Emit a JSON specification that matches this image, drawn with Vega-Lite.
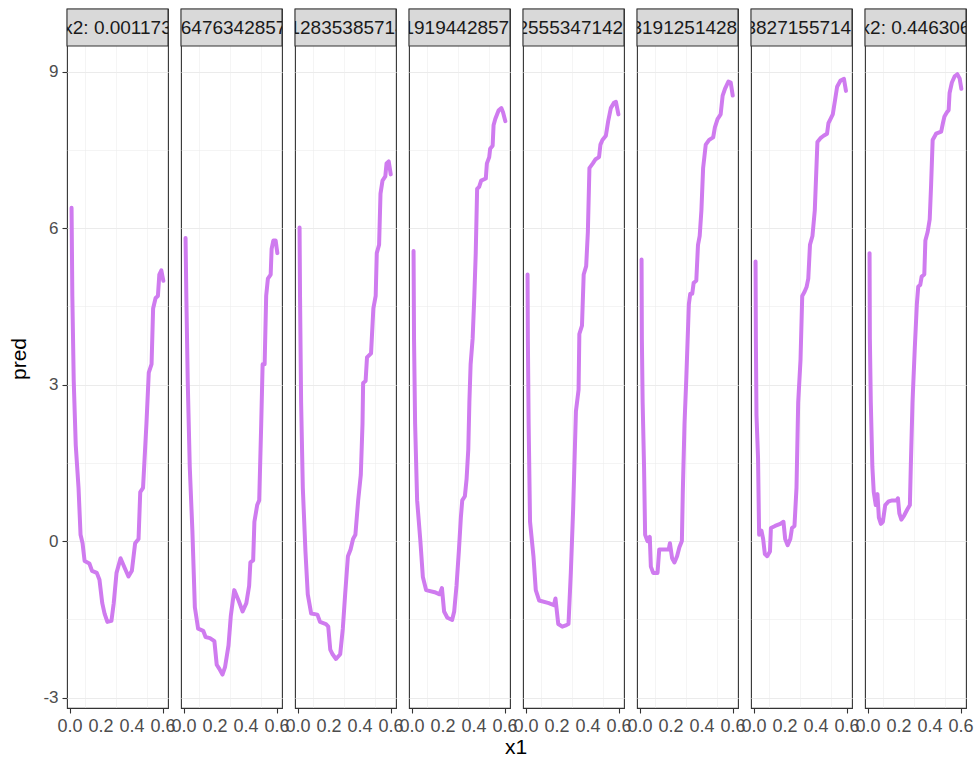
{
  "$schema": "https://vega.github.io/schema/vega-lite/v6.json",
  "background": "white",
  "padding": {"left": 8, "top": 7, "right": 0, "bottom": 5},
  "bounds": "flush",
  "datasets": {
    "p": [
      {"x2":"x2: 0.001173","x1":0.01,"pred":6.39},{"x2":"x2: 0.001173","x1":0.015,"pred":4.70},{"x2":"x2: 0.001173","x1":0.024,"pred":3.07},{"x2":"x2: 0.001173","x1":0.037,"pred":1.84},{"x2":"x2: 0.001173","x1":0.055,"pred":1.02},{"x2":"x2: 0.001173","x1":0.068,"pred":0.12},{"x2":"x2: 0.001173","x1":0.081,"pred":-0.04},{"x2":"x2: 0.001173","x1":0.094,"pred":-0.38},{"x2":"x2: 0.001173","x1":0.125,"pred":-0.43},{"x2":"x2: 0.001173","x1":0.142,"pred":-0.57},{"x2":"x2: 0.001173","x1":0.173,"pred":-0.61},{"x2":"x2: 0.001173","x1":0.19,"pred":-0.74},{"x2":"x2: 0.001173","x1":0.208,"pred":-1.19},{"x2":"x2: 0.001173","x1":0.223,"pred":-1.39},{"x2":"x2: 0.001173","x1":0.241,"pred":-1.55},{"x2":"x2: 0.001173","x1":0.267,"pred":-1.53},{"x2":"x2: 0.001173","x1":0.282,"pred":-1.19},{"x2":"x2: 0.001173","x1":0.3,"pred":-0.61},{"x2":"x2: 0.001173","x1":0.326,"pred":-0.33},{"x2":"x2: 0.001173","x1":0.355,"pred":-0.53},{"x2":"x2: 0.001173","x1":0.377,"pred":-0.68},{"x2":"x2: 0.001173","x1":0.399,"pred":-0.57},{"x2":"x2: 0.001173","x1":0.42,"pred":-0.04},{"x2":"x2: 0.001173","x1":0.442,"pred":0.04},{"x2":"x2: 0.001173","x1":0.453,"pred":0.94},{"x2":"x2: 0.001173","x1":0.471,"pred":1.02},{"x2":"x2: 0.001173","x1":0.493,"pred":2.25},{"x2":"x2: 0.001173","x1":0.508,"pred":3.23},{"x2":"x2: 0.001173","x1":0.526,"pred":3.39},{"x2":"x2: 0.001173","x1":0.536,"pred":4.46},{"x2":"x2: 0.001173","x1":0.552,"pred":4.66},{"x2":"x2: 0.001173","x1":0.567,"pred":4.70},{"x2":"x2: 0.001173","x1":0.576,"pred":5.11},{"x2":"x2: 0.001173","x1":0.589,"pred":5.19},{"x2":"x2: 0.001173","x1":0.602,"pred":4.99},

      {"x2":"x2: 0.0647634285714286","x1":0.01,"pred":5.81},{"x2":"x2: 0.0647634285714286","x1":0.015,"pred":4.70},{"x2":"x2: 0.0647634285714286","x1":0.024,"pred":3.07},{"x2":"x2: 0.0647634285714286","x1":0.037,"pred":1.43},{"x2":"x2: 0.0647634285714286","x1":0.054,"pred":0.2},{"x2":"x2: 0.0647634285714286","x1":0.07,"pred":-1.27},{"x2":"x2: 0.0647634285714286","x1":0.091,"pred":-1.68},{"x2":"x2: 0.0647634285714286","x1":0.124,"pred":-1.72},{"x2":"x2: 0.0647634285714286","x1":0.139,"pred":-1.84},{"x2":"x2: 0.0647634285714286","x1":0.167,"pred":-1.86},{"x2":"x2: 0.0647634285714286","x1":0.196,"pred":-1.92},{"x2":"x2: 0.0647634285714286","x1":0.211,"pred":-2.37},{"x2":"x2: 0.0647634285714286","x1":0.228,"pred":-2.45},{"x2":"x2: 0.0647634285714286","x1":0.248,"pred":-2.56},{"x2":"x2: 0.0647634285714286","x1":0.265,"pred":-2.41},{"x2":"x2: 0.0647634285714286","x1":0.287,"pred":-2.0},{"x2":"x2: 0.0647634285714286","x1":0.302,"pred":-1.43},{"x2":"x2: 0.0647634285714286","x1":0.324,"pred":-0.94},{"x2":"x2: 0.0647634285714286","x1":0.352,"pred":-1.14},{"x2":"x2: 0.0647634285714286","x1":0.378,"pred":-1.35},{"x2":"x2: 0.0647634285714286","x1":0.402,"pred":-1.19},{"x2":"x2: 0.0647634285714286","x1":0.42,"pred":-0.86},{"x2":"x2: 0.0647634285714286","x1":0.428,"pred":-0.41},{"x2":"x2: 0.0647634285714286","x1":0.446,"pred":-0.37},{"x2":"x2: 0.0647634285714286","x1":0.454,"pred":0.37},{"x2":"x2: 0.0647634285714286","x1":0.472,"pred":0.69},{"x2":"x2: 0.0647634285714286","x1":0.485,"pred":0.78},{"x2":"x2: 0.0647634285714286","x1":0.498,"pred":2.25},{"x2":"x2: 0.0647634285714286","x1":0.507,"pred":3.39},{"x2":"x2: 0.0647634285714286","x1":0.52,"pred":3.39},{"x2":"x2: 0.0647634285714286","x1":0.53,"pred":4.70},{"x2":"x2: 0.0647634285714286","x1":0.541,"pred":5.03},{"x2":"x2: 0.0647634285714286","x1":0.559,"pred":5.11},{"x2":"x2: 0.0647634285714286","x1":0.565,"pred":5.6},{"x2":"x2: 0.0647634285714286","x1":0.576,"pred":5.76},{"x2":"x2: 0.0647634285714286","x1":0.591,"pred":5.76},{"x2":"x2: 0.0647634285714286","x1":0.602,"pred":5.52},

      {"x2":"x2: 0.128353857142857","x1":0.01,"pred":6.01},{"x2":"x2: 0.128353857142857","x1":0.013,"pred":4.70},{"x2":"x2: 0.128353857142857","x1":0.02,"pred":2.66},{"x2":"x2: 0.128353857142857","x1":0.031,"pred":1.02},{"x2":"x2: 0.128353857142857","x1":0.048,"pred":-0.2},{"x2":"x2: 0.128353857142857","x1":0.063,"pred":-1.02},{"x2":"x2: 0.128353857142857","x1":0.085,"pred":-1.39},{"x2":"x2: 0.128353857142857","x1":0.125,"pred":-1.41},{"x2":"x2: 0.128353857142857","x1":0.142,"pred":-1.55},{"x2":"x2: 0.128353857142857","x1":0.18,"pred":-1.59},{"x2":"x2: 0.128353857142857","x1":0.195,"pred":-1.64},{"x2":"x2: 0.128353857142857","x1":0.208,"pred":-2.08},{"x2":"x2: 0.128353857142857","x1":0.223,"pred":-2.17},{"x2":"x2: 0.128353857142857","x1":0.245,"pred":-2.26},{"x2":"x2: 0.128353857142857","x1":0.272,"pred":-2.17},{"x2":"x2: 0.128353857142857","x1":0.289,"pred":-1.68},{"x2":"x2: 0.128353857142857","x1":0.304,"pred":-1.02},{"x2":"x2: 0.128353857142857","x1":0.322,"pred":-0.29},{"x2":"x2: 0.128353857142857","x1":0.339,"pred":-0.16},{"x2":"x2: 0.128353857142857","x1":0.355,"pred":0.04},{"x2":"x2: 0.128353857142857","x1":0.37,"pred":0.12},{"x2":"x2: 0.128353857142857","x1":0.388,"pred":0.78},{"x2":"x2: 0.128353857142857","x1":0.405,"pred":1.27},{"x2":"x2: 0.128353857142857","x1":0.416,"pred":2.25},{"x2":"x2: 0.128353857142857","x1":0.42,"pred":3.03},{"x2":"x2: 0.128353857142857","x1":0.436,"pred":3.07},{"x2":"x2: 0.128353857142857","x1":0.445,"pred":3.52},{"x2":"x2: 0.128353857142857","x1":0.471,"pred":3.6},{"x2":"x2: 0.128353857142857","x1":0.486,"pred":4.46},{"x2":"x2: 0.128353857142857","x1":0.501,"pred":4.70},{"x2":"x2: 0.128353857142857","x1":0.508,"pred":5.52},{"x2":"x2: 0.128353857142857","x1":0.523,"pred":5.68},{"x2":"x2: 0.128353857142857","x1":0.532,"pred":6.66},{"x2":"x2: 0.128353857142857","x1":0.545,"pred":6.91},{"x2":"x2: 0.128353857142857","x1":0.563,"pred":6.99},{"x2":"x2: 0.128353857142857","x1":0.571,"pred":7.24},{"x2":"x2: 0.128353857142857","x1":0.585,"pred":7.28},{"x2":"x2: 0.128353857142857","x1":0.598,"pred":7.03},

      {"x2":"x2: 0.191944285714286","x1":0.01,"pred":5.56},{"x2":"x2: 0.191944285714286","x1":0.013,"pred":3.88},{"x2":"x2: 0.191944285714286","x1":0.02,"pred":2.25},{"x2":"x2: 0.191944285714286","x1":0.033,"pred":0.78},{"x2":"x2: 0.191944285714286","x1":0.054,"pred":0.0},{"x2":"x2: 0.191944285714286","x1":0.07,"pred":-0.69},{"x2":"x2: 0.191944285714286","x1":0.091,"pred":-0.94},{"x2":"x2: 0.191944285714286","x1":0.146,"pred":-0.98},{"x2":"x2: 0.191944285714286","x1":0.178,"pred":-1.02},{"x2":"x2: 0.191944285714286","x1":0.193,"pred":-0.9},{"x2":"x2: 0.191944285714286","x1":0.207,"pred":-1.35},{"x2":"x2: 0.191944285714286","x1":0.228,"pred":-1.47},{"x2":"x2: 0.191944285714286","x1":0.259,"pred":-1.51},{"x2":"x2: 0.191944285714286","x1":0.272,"pred":-1.35},{"x2":"x2: 0.191944285714286","x1":0.287,"pred":-0.86},{"x2":"x2: 0.191944285714286","x1":0.302,"pred":-0.2},{"x2":"x2: 0.191944285714286","x1":0.315,"pred":0.45},{"x2":"x2: 0.191944285714286","x1":0.324,"pred":0.78},{"x2":"x2: 0.191944285714286","x1":0.341,"pred":0.86},{"x2":"x2: 0.191944285714286","x1":0.352,"pred":1.19},{"x2":"x2: 0.191944285714286","x1":0.363,"pred":1.76},{"x2":"x2: 0.191944285714286","x1":0.37,"pred":2.66},{"x2":"x2: 0.191944285714286","x1":0.378,"pred":3.39},{"x2":"x2: 0.191944285714286","x1":0.391,"pred":3.88},{"x2":"x2: 0.191944285714286","x1":0.402,"pred":4.70},{"x2":"x2: 0.191944285714286","x1":0.411,"pred":5.52},{"x2":"x2: 0.191944285714286","x1":0.42,"pred":6.75},{"x2":"x2: 0.191944285714286","x1":0.433,"pred":6.79},{"x2":"x2: 0.191944285714286","x1":0.446,"pred":6.91},{"x2":"x2: 0.191944285714286","x1":0.476,"pred":6.95},{"x2":"x2: 0.191944285714286","x1":0.483,"pred":7.24},{"x2":"x2: 0.191944285714286","x1":0.498,"pred":7.36},{"x2":"x2: 0.191944285714286","x1":0.504,"pred":7.52},{"x2":"x2: 0.191944285714286","x1":0.52,"pred":7.58},{"x2":"x2: 0.191944285714286","x1":0.526,"pred":7.97},{"x2":"x2: 0.191944285714286","x1":0.537,"pred":8.09},{"x2":"x2: 0.191944285714286","x1":0.559,"pred":8.26},{"x2":"x2: 0.191944285714286","x1":0.576,"pred":8.3},{"x2":"x2: 0.191944285714286","x1":0.587,"pred":8.22},{"x2":"x2: 0.191944285714286","x1":0.602,"pred":8.05},

      {"x2":"x2: 0.255534714285714","x1":0.01,"pred":5.11},{"x2":"x2: 0.255534714285714","x1":0.012,"pred":3.88},{"x2":"x2: 0.255534714285714","x1":0.017,"pred":2.25},{"x2":"x2: 0.255534714285714","x1":0.026,"pred":0.37},{"x2":"x2: 0.255534714285714","x1":0.048,"pred":-0.29},{"x2":"x2: 0.255534714285714","x1":0.063,"pred":-0.94},{"x2":"x2: 0.255534714285714","x1":0.085,"pred":-1.14},{"x2":"x2: 0.255534714285714","x1":0.147,"pred":-1.19},{"x2":"x2: 0.255534714285714","x1":0.18,"pred":-1.23},{"x2":"x2: 0.255534714285714","x1":0.19,"pred":-1.1},{"x2":"x2: 0.255534714285714","x1":0.208,"pred":-1.59},{"x2":"x2: 0.255534714285714","x1":0.234,"pred":-1.64},{"x2":"x2: 0.255534714285714","x1":0.261,"pred":-1.61},{"x2":"x2: 0.255534714285714","x1":0.274,"pred":-1.59},{"x2":"x2: 0.255534714285714","x1":0.289,"pred":-0.61},{"x2":"x2: 0.255534714285714","x1":0.304,"pred":0.61},{"x2":"x2: 0.255534714285714","x1":0.322,"pred":2.49},{"x2":"x2: 0.255534714285714","x1":0.339,"pred":2.9},{"x2":"x2: 0.255534714285714","x1":0.344,"pred":3.97},{"x2":"x2: 0.255534714285714","x1":0.361,"pred":4.13},{"x2":"x2: 0.255534714285714","x1":0.372,"pred":5.11},{"x2":"x2: 0.255534714285714","x1":0.388,"pred":5.27},{"x2":"x2: 0.255534714285714","x1":0.399,"pred":5.93},{"x2":"x2: 0.255534714285714","x1":0.409,"pred":7.15},{"x2":"x2: 0.255534714285714","x1":0.431,"pred":7.24},{"x2":"x2: 0.255534714285714","x1":0.449,"pred":7.32},{"x2":"x2: 0.255534714285714","x1":0.471,"pred":7.36},{"x2":"x2: 0.255534714285714","x1":0.48,"pred":7.6},{"x2":"x2: 0.255534714285714","x1":0.493,"pred":7.69},{"x2":"x2: 0.255534714285714","x1":0.515,"pred":7.77},{"x2":"x2: 0.255534714285714","x1":0.53,"pred":8.05},{"x2":"x2: 0.255534714285714","x1":0.547,"pred":8.3},{"x2":"x2: 0.255534714285714","x1":0.567,"pred":8.4},{"x2":"x2: 0.255534714285714","x1":0.58,"pred":8.42},{"x2":"x2: 0.255534714285714","x1":0.596,"pred":8.18},

      {"x2":"x2: 0.319125142857143","x1":0.01,"pred":5.4},{"x2":"x2: 0.319125142857143","x1":0.012,"pred":3.88},{"x2":"x2: 0.319125142857143","x1":0.017,"pred":2.66},{"x2":"x2: 0.319125142857143","x1":0.026,"pred":1.43},{"x2":"x2: 0.319125142857143","x1":0.033,"pred":0.12},{"x2":"x2: 0.319125142857143","x1":0.048,"pred":0.0},{"x2":"x2: 0.319125142857143","x1":0.063,"pred":0.08},{"x2":"x2: 0.319125142857143","x1":0.07,"pred":-0.49},{"x2":"x2: 0.319125142857143","x1":0.085,"pred":-0.61},{"x2":"x2: 0.319125142857143","x1":0.113,"pred":-0.61},{"x2":"x2: 0.319125142857143","x1":0.124,"pred":-0.16},{"x2":"x2: 0.319125142857143","x1":0.157,"pred":-0.16},{"x2":"x2: 0.319125142857143","x1":0.185,"pred":-0.16},{"x2":"x2: 0.319125142857143","x1":0.193,"pred":-0.04},{"x2":"x2: 0.319125142857143","x1":0.207,"pred":-0.33},{"x2":"x2: 0.319125142857143","x1":0.222,"pred":-0.41},{"x2":"x2: 0.319125142857143","x1":0.239,"pred":-0.29},{"x2":"x2: 0.319125142857143","x1":0.254,"pred":-0.12},{"x2":"x2: 0.319125142857143","x1":0.27,"pred":0.0},{"x2":"x2: 0.319125142857143","x1":0.276,"pred":0.94},{"x2":"x2: 0.319125142857143","x1":0.287,"pred":2.25},{"x2":"x2: 0.319125142857143","x1":0.298,"pred":3.07},{"x2":"x2: 0.319125142857143","x1":0.315,"pred":4.54},{"x2":"x2: 0.319125142857143","x1":0.324,"pred":4.74},{"x2":"x2: 0.319125142857143","x1":0.337,"pred":4.74},{"x2":"x2: 0.319125142857143","x1":0.346,"pred":4.95},{"x2":"x2: 0.319125142857143","x1":0.363,"pred":4.99},{"x2":"x2: 0.319125142857143","x1":0.374,"pred":5.68},{"x2":"x2: 0.319125142857143","x1":0.385,"pred":5.85},{"x2":"x2: 0.319125142857143","x1":0.396,"pred":6.34},{"x2":"x2: 0.319125142857143","x1":0.407,"pred":7.15},{"x2":"x2: 0.319125142857143","x1":0.424,"pred":7.6},{"x2":"x2: 0.319125142857143","x1":0.446,"pred":7.69},{"x2":"x2: 0.319125142857143","x1":0.472,"pred":7.74},{"x2":"x2: 0.319125142857143","x1":0.483,"pred":7.93},{"x2":"x2: 0.319125142857143","x1":0.5,"pred":8.09},{"x2":"x2: 0.319125142857143","x1":0.52,"pred":8.18},{"x2":"x2: 0.319125142857143","x1":0.533,"pred":8.54},{"x2":"x2: 0.319125142857143","x1":0.548,"pred":8.67},{"x2":"x2: 0.319125142857143","x1":0.57,"pred":8.81},{"x2":"x2: 0.319125142857143","x1":0.585,"pred":8.79},{"x2":"x2: 0.319125142857143","x1":0.598,"pred":8.54},

      {"x2":"x2: 0.382715571428571","x1":0.01,"pred":5.36},{"x2":"x2: 0.382715571428571","x1":0.012,"pred":3.88},{"x2":"x2: 0.382715571428571","x1":0.016,"pred":2.41},{"x2":"x2: 0.382715571428571","x1":0.026,"pred":1.59},{"x2":"x2: 0.382715571428571","x1":0.033,"pred":0.12},{"x2":"x2: 0.382715571428571","x1":0.048,"pred":0.2},{"x2":"x2: 0.382715571428571","x1":0.059,"pred":0.04},{"x2":"x2: 0.382715571428571","x1":0.07,"pred":-0.25},{"x2":"x2: 0.382715571428571","x1":0.085,"pred":-0.29},{"x2":"x2: 0.382715571428571","x1":0.103,"pred":-0.2},{"x2":"x2: 0.382715571428571","x1":0.109,"pred":0.25},{"x2":"x2: 0.382715571428571","x1":0.136,"pred":0.29},{"x2":"x2: 0.382715571428571","x1":0.169,"pred":0.33},{"x2":"x2: 0.382715571428571","x1":0.19,"pred":0.37},{"x2":"x2: 0.382715571428571","x1":0.201,"pred":0.04},{"x2":"x2: 0.382715571428571","x1":0.217,"pred":-0.08},{"x2":"x2: 0.382715571428571","x1":0.234,"pred":0.04},{"x2":"x2: 0.382715571428571","x1":0.245,"pred":0.25},{"x2":"x2: 0.382715571428571","x1":0.261,"pred":0.29},{"x2":"x2: 0.382715571428571","x1":0.274,"pred":1.02},{"x2":"x2: 0.382715571428571","x1":0.285,"pred":2.66},{"x2":"x2: 0.382715571428571","x1":0.3,"pred":3.48},{"x2":"x2: 0.382715571428571","x1":0.311,"pred":4.70},{"x2":"x2: 0.382715571428571","x1":0.326,"pred":4.78},{"x2":"x2: 0.382715571428571","x1":0.339,"pred":4.87},{"x2":"x2: 0.382715571428571","x1":0.35,"pred":5.03},{"x2":"x2: 0.382715571428571","x1":0.361,"pred":5.68},{"x2":"x2: 0.382715571428571","x1":0.377,"pred":5.85},{"x2":"x2: 0.382715571428571","x1":0.392,"pred":6.34},{"x2":"x2: 0.382715571428571","x1":0.409,"pred":7.65},{"x2":"x2: 0.382715571428571","x1":0.431,"pred":7.73},{"x2":"x2: 0.382715571428571","x1":0.449,"pred":7.77},{"x2":"x2: 0.382715571428571","x1":0.471,"pred":7.81},{"x2":"x2: 0.382715571428571","x1":0.48,"pred":8.01},{"x2":"x2: 0.382715571428571","x1":0.493,"pred":8.09},{"x2":"x2: 0.382715571428571","x1":0.508,"pred":8.18},{"x2":"x2: 0.382715571428571","x1":0.523,"pred":8.46},{"x2":"x2: 0.382715571428571","x1":0.536,"pred":8.71},{"x2":"x2: 0.382715571428571","x1":0.558,"pred":8.83},{"x2":"x2: 0.382715571428571","x1":0.58,"pred":8.86},{"x2":"x2: 0.382715571428571","x1":0.593,"pred":8.63},

      {"x2":"x2: 0.446306","x1":0.01,"pred":5.52},{"x2":"x2: 0.446306","x1":0.012,"pred":3.88},{"x2":"x2: 0.446306","x1":0.018,"pred":2.66},{"x2":"x2: 0.446306","x1":0.028,"pred":1.43},{"x2":"x2: 0.446306","x1":0.037,"pred":0.94},{"x2":"x2: 0.446306","x1":0.05,"pred":0.69},{"x2":"x2: 0.446306","x1":0.061,"pred":0.9},{"x2":"x2: 0.446306","x1":0.07,"pred":0.45},{"x2":"x2: 0.446306","x1":0.083,"pred":0.33},{"x2":"x2: 0.446306","x1":0.096,"pred":0.37},{"x2":"x2: 0.446306","x1":0.111,"pred":0.69},{"x2":"x2: 0.446306","x1":0.133,"pred":0.76},{"x2":"x2: 0.446306","x1":0.157,"pred":0.78},{"x2":"x2: 0.446306","x1":0.185,"pred":0.78},{"x2":"x2: 0.446306","x1":0.193,"pred":0.82},{"x2":"x2: 0.446306","x1":0.202,"pred":0.53},{"x2":"x2: 0.446306","x1":0.215,"pred":0.41},{"x2":"x2: 0.446306","x1":0.233,"pred":0.49},{"x2":"x2: 0.446306","x1":0.254,"pred":0.61},{"x2":"x2: 0.446306","x1":0.27,"pred":0.69},{"x2":"x2: 0.446306","x1":0.276,"pred":1.43},{"x2":"x2: 0.446306","x1":0.287,"pred":2.66},{"x2":"x2: 0.446306","x1":0.302,"pred":3.72},{"x2":"x2: 0.446306","x1":0.315,"pred":4.54},{"x2":"x2: 0.446306","x1":0.324,"pred":4.88},{"x2":"x2: 0.446306","x1":0.337,"pred":4.91},{"x2":"x2: 0.446306","x1":0.346,"pred":5.07},{"x2":"x2: 0.446306","x1":0.363,"pred":5.11},{"x2":"x2: 0.446306","x1":0.37,"pred":5.76},{"x2":"x2: 0.446306","x1":0.385,"pred":5.93},{"x2":"x2: 0.446306","x1":0.398,"pred":6.17},{"x2":"x2: 0.446306","x1":0.407,"pred":6.83},{"x2":"x2: 0.446306","x1":0.417,"pred":7.69},{"x2":"x2: 0.446306","x1":0.439,"pred":7.81},{"x2":"x2: 0.446306","x1":0.472,"pred":7.85},{"x2":"x2: 0.446306","x1":0.483,"pred":8.01},{"x2":"x2: 0.446306","x1":0.493,"pred":8.14},{"x2":"x2: 0.446306","x1":0.509,"pred":8.22},{"x2":"x2: 0.446306","x1":0.52,"pred":8.26},{"x2":"x2: 0.446306","x1":0.526,"pred":8.59},{"x2":"x2: 0.446306","x1":0.541,"pred":8.79},{"x2":"x2: 0.446306","x1":0.559,"pred":8.91},{"x2":"x2: 0.446306","x1":0.576,"pred":8.95},{"x2":"x2: 0.446306","x1":0.591,"pred":8.87},{"x2":"x2: 0.446306","x1":0.602,"pred":8.67}
    ]
  },
  "data": {"name": "p"},
  "facet": {"column": {"field": "x2", "type": "nominal", "sort": null, "title": "x1",
                       "header": {"labels": false, "titleOrient": "bottom", "titleFont": "Liberation Sans", "titleFontSize": 21, "titleFontWeight": "normal", "titleColor": "#000000", "titlePadding": 13}}},
  "spacing": 13,
  "spec": {
    "width": 101,
    "height": 699,
    "layer": [
      {
        "transform": [{"aggregate": [{"op": "count", "as": "n"}], "groupby": ["x2"]}],
        "mark": {"type": "rule", "color": "#EBEBEB", "strokeWidth": 0.55},
        "encoding": {"x": {"datum": 0.1}}
      },
      {
        "transform": [{"aggregate": [{"op": "count", "as": "n"}], "groupby": ["x2"]}],
        "mark": {"type": "rule", "color": "#EBEBEB", "strokeWidth": 0.55},
        "encoding": {"x": {"datum": 0.3}}
      },
      {
        "transform": [{"aggregate": [{"op": "count", "as": "n"}], "groupby": ["x2"]}],
        "mark": {"type": "rule", "color": "#EBEBEB", "strokeWidth": 0.55},
        "encoding": {"x": {"datum": 0.5}}
      },
      {
        "mark": {"type": "line", "color": "#CF7BEF", "strokeWidth": 4, "strokeJoin": "round", "strokeCap": "round"},
        "encoding": {
          "x": {"field": "x1", "type": "quantitative",
                "scale": {"domain": [-0.0194, 0.632], "nice": false, "zero": false},
                "axis": {"title": null, "values": [0, 0.2, 0.4, 0.6], "labels": false, "gridWidth": 1.1}},
          "y": {"field": "pred", "type": "quantitative",
                "scale": {"domain": [-3.2, 10.2], "nice": false, "zero": false},
                "axis": {"title": "pred", "titlePadding": 13, "values": [-3, -1.5, 0, 1.5, 3, 4.5, 6, 7.5, 9],
                         "labelExpr": "datum.value % 3 == 0 ? '' + datum.value : ''",
                         "tickOpacity": {"condition": {"test": "datum.value % 3 == 0", "value": 1}, "value": 0},
                         "gridWidth": {"condition": {"test": "datum.value % 3 == 0", "value": 1.1}, "value": 0.55},
                         "labelOverlap": false, "labelFlush": false, "labelBound": false}}
        }
      },
      {
        "transform": [{"aggregate": [{"op": "count", "as": "n"}], "groupby": ["x2"]}],
        "mark": {"type": "text", "fontSize": 18, "color": "#4D4D4D", "font": "Liberation Sans", "baseline": "alphabetic", "align": "center"},
        "encoding": {"x": {"datum": 0}, "y": {"datum": -3.66}, "text": {"value": "0.0"}}
      },
      {
        "transform": [{"aggregate": [{"op": "count", "as": "n"}], "groupby": ["x2"]}],
        "mark": {"type": "text", "fontSize": 18, "color": "#4D4D4D", "font": "Liberation Sans", "baseline": "alphabetic", "align": "center"},
        "encoding": {"x": {"datum": 0.2}, "y": {"datum": -3.66}, "text": {"value": "0.2"}}
      },
      {
        "transform": [{"aggregate": [{"op": "count", "as": "n"}], "groupby": ["x2"]}],
        "mark": {"type": "text", "fontSize": 18, "color": "#4D4D4D", "font": "Liberation Sans", "baseline": "alphabetic", "align": "center"},
        "encoding": {"x": {"datum": 0.4}, "y": {"datum": -3.66}, "text": {"value": "0.4"}}
      },
      {
        "transform": [{"aggregate": [{"op": "count", "as": "n"}], "groupby": ["x2"]}],
        "mark": {"type": "text", "fontSize": 18, "color": "#4D4D4D", "font": "Liberation Sans", "baseline": "alphabetic", "align": "center"},
        "encoding": {"x": {"datum": 0.6}, "y": {"datum": -3.66}, "text": {"value": "0.6"}}
      },
      {
        "transform": [{"aggregate": [{"op": "count", "as": "n"}], "groupby": ["x2"]}],
        "mark": {"type": "rect", "fill": "#D9D9D9", "stroke": "#333333", "strokeWidth": 1.1},
        "encoding": {"x": {"datum": -0.0194}, "x2": {"datum": 0.632}, "y": {"datum": 10.2}, "y2": {"datum": 9.49}}
      },
      {
        "transform": [{"aggregate": [{"op": "count", "as": "n"}], "groupby": ["x2"]}],
        "mark": {"type": "text", "clip": true, "fontSize": 19, "color": "#1A1A1A", "font": "Liberation Sans", "baseline": "middle", "align": "center"},
        "encoding": {"x": {"datum": 0.3063}, "y": {"datum": 9.845}, "text": {"field": "x2"}}
      }
    ]
  },
  "config": {
    "view": {"stroke": "#333333", "strokeWidth": 1.1},
    "axis": {"domain": false, "gridColor": "#EBEBEB", "tickColor": "#333333", "tickSize": 5, "tickWidth": 1.1,
             "labelFont": "Liberation Sans", "labelFontSize": 17, "labelColor": "#4D4D4D", "labelPadding": 3,
             "titleFont": "Liberation Sans", "titleFontSize": 21, "titleColor": "#000000", "titleFontWeight": "normal"},
    "axisY": {"labelPadding": 4}
  }
}
